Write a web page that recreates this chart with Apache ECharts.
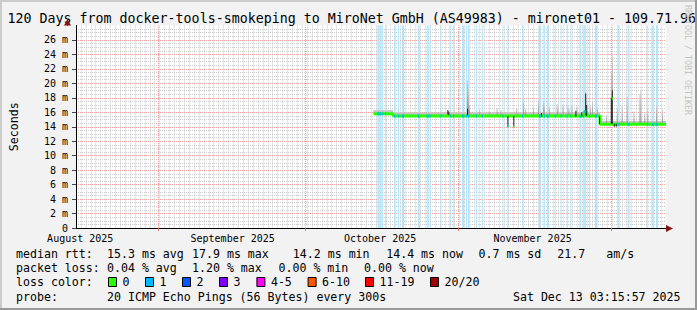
<!DOCTYPE html>
<html>
<head>
<meta charset="utf-8">
<script src="https://cdn.jsdelivr.net/npm/echarts@6/dist/echarts.min.js"></script>
<style>
html,body{margin:0;padding:0;background:#f2f2f2;}
#c{width:697px;height:310px;}
</style>
</head>
<body>
<div id="c"></div>
<script>
// ---------------- data (x = days since Fri Aug 15 2025 03:15:57, 120-day window) ----------------
const titleText = '120 Days from docker-tools-smokeping to MiroNet GmbH (AS49983) - mironet01 - 109.71.96';
const monthLabels = ['August 2025', 'September 2025', 'October 2025', 'November 2025'];
const monthLabelDays = [0.86, 31.86, 61.86, 92.86];
const monthLineDays = [16.63, 46.68, 77.73, 108.78];

// median RTT in ms, as step changes [day, ms]
const medianSteps = [
  [60.50, 15.8], [64.51, 15.5], [103.37, 16.1], [103.77, 15.5], [106.58, 14.35], [120.0, 14.35]
];
// single-column median excursions [day, ms]
const medianDips = [[87.75, 14.1], [88.95, 14.0], [108.98, 17.9]];

// light smoke band [fromDay, toDay, low ms, high ms]
const smokeBand = [
  [60.50, 64.51, 15.8, 16.3],
  [64.51, 106.58, 15.5, 16.0],
  [106.58, 120.0, 14.35, 14.8]
];

// smoke spikes above the median [day, top ms]
const smokeSpikes = [
  [79.53, 20.4], [79.73, 19.2], [79.93, 17.0], [81.94, 16.3], [83.94, 16.2], [85.54, 16.6],
  [86.34, 16.3], [89.55, 16.6], [90.95, 17.8], [91.35, 16.5], [92.95, 16.6], [93.96, 17.7],
  [94.96, 17.5], [95.16, 17.0], [96.16, 16.8], [97.76, 17.2], [97.96, 16.8], [98.96, 17.1],
  [99.97, 17.0], [100.17, 16.5], [100.77, 17.0], [101.77, 16.8], [103.57, 18.9], [104.57, 16.8],
  [104.97, 17.5], [105.97, 16.6], [107.78, 15.6], [108.78, 21.5], [108.98, 23.8], [109.98, 16.6],
  [110.98, 17.0], [111.99, 18.2], [113.39, 16.2], [114.59, 18.5], [114.79, 19.1], [115.59, 16.0],
  [116.19, 16.4], [117.99, 17.0], [119.20, 16.3]
];

// dense (dark) smoke [day, low ms, high ms]
const darkSmoke = [
  [75.53, 15.7, 16.3], [75.73, 15.6, 16.1], [79.53, 15.6, 16.5], [87.75, 14.0, 15.5],
  [88.95, 14.0, 15.5], [94.56, 15.4, 15.9], [101.57, 15.4, 16.2], [102.77, 15.4, 16.0],
  [103.57, 15.6, 18.6], [103.77, 15.5, 17.0], [106.38, 14.4, 15.5], [108.78, 14.4, 18.0],
  [108.98, 14.4, 19.0], [109.38, 14.0, 14.4], [109.78, 14.0, 14.4]
];

// buckets with packet loss (loss color "1")
const lossDays = [
  61.30, 61.50, 61.70, 61.90, 62.30, 62.90, 64.71, 65.51, 66.31, 66.51, 69.52, 69.72,
  71.32, 71.52, 71.92, 74.12, 76.13, 76.73, 78.53, 78.73, 79.33, 79.73, 81.34, 82.54,
  86.74, 87.75, 90.75, 94.16, 94.36, 95.16, 95.76, 95.96, 97.36, 98.56, 99.77, 100.57,
  102.37, 102.57, 103.17, 103.37, 103.57, 104.37, 105.57, 105.77, 110.18, 110.38, 112.18,
  112.38, 116.19, 117.19, 117.39, 117.99, 118.19
];

const lossLabels = ['0', '1', '2', '3', '4-5', '6-10', '11-19', '20/20'];
const lossColors = ['#26ff00', '#00b8ff', '#0059ff', '#7e00ff', '#ff00ff', '#ff5500', '#ff0000', '#a10000'];

const statLines = [
  { y: 253.5, items: [[16, 'median rtt:'], [107, '15.3 ms avg'], [192, '17.9 ms max'], [292.8, '14.2 ms min'], [386.2, '14.4 ms now'], [478.5, '0.7 ms sd'], [557.3, '21.7'], [606.2, 'am/s']] },
  { y: 268, items: [[16, 'packet loss:'], [107, '0.04 % avg'], [192, '1.20 % max'], [278.5, '0.00 % min'], [364, '0.00 % now']] },
  { y: 282.3, items: [[16, 'loss color:']] },
  { y: 296.5, items: [[16, 'probe:'], [107, '20 ICMP Echo Pings (56 Bytes) every 300s']] }
];
const stampText = 'Sat Dec 13 03:15:57 2025';

// ---------------- chart ----------------
const BUCKET = 120 / 600;  // one consolidated column, in days
const MONO = '"DejaVu Sans Mono", monospace';

function medianAt(d) {
  const dip = medianDips.find(m => Math.abs(m[0] - d) < 1e-6);
  if (dip) return dip[1];
  let v = medianSteps[0][1];
  for (const s of medianSteps) { if (s[0] <= d + 1e-6) v = s[1]; else break; }
  return v;
}

const chart = echarts.init(document.getElementById('c'), null, { renderer: 'svg', width: 697, height: 310 });

const legendGraphics = [];
const boxX = [108, 145, 182, 219, 256.4, 307.6, 365, 430];
lossLabels.forEach((lab, i) => {
  legendGraphics.push({ type: 'rect', shape: { x: boxX[i] + 0.5, y: 277.5, width: 8, height: 9 },
    style: { fill: lossColors[i], stroke: '#000', lineWidth: 1 }, z: 10 });
  legendGraphics.push({ type: 'text', x: boxX[i] + 14.5, y: 282.3,
    style: { text: lab, fontSize: 11.6, fontFamily: MONO, fill: '#000', verticalAlign: 'middle' }, z: 10 });
});

const textGraphics = [];
statLines.forEach(line => {
  line.items.forEach(it => {
    textGraphics.push({ type: 'text', x: it[0], y: line.y,
      style: { text: it[1], fontSize: 11.6, fontFamily: MONO, fill: '#000', verticalAlign: 'middle' }, z: 10 });
  });
});
textGraphics.push({ type: 'text', x: 680.5, y: 296.5,
  style: { text: stampText, fontSize: 11.6, fontFamily: MONO, fill: '#000', align: 'right', verticalAlign: 'middle' }, z: 10 });

function rectItem(a, b, fill) {
  return { type: 'rect', shape: { x: a[0], y: Math.min(a[1], b[1]), width: b[0] - a[0], height: Math.abs(a[1] - b[1]) }, style: { fill } };
}

const option = {
  backgroundColor: '#f2f2f2',
  animation: false,
  grid: { left: 67, right: 31, top: 25.5, bottom: 82, show: true, backgroundColor: '#ffffff', borderWidth: 0 },
  xAxis: [
    {
      type: 'value', min: 0, max: 120, position: 'bottom',
      axisLine: { show: true, onZero: false, lineStyle: { color: '#000', width: 1 } },
      axisTick: { show: true, customValues: monthLineDays, length: 3, lineStyle: { color: '#e07070' } },
      axisLabel: {
        show: true, customValues: monthLabelDays, margin: 5, fontSize: 10, lineHeight: 10, fontFamily: MONO, color: '#000',
        formatter: v => { const i = monthLabelDays.findIndex(m => Math.abs(m - v) < 0.01); return i >= 0 ? monthLabels[i] : ''; }
      },
      splitLine: { show: false }
    },
    {
      type: 'value', min: 0, max: 120, interval: 1, position: 'top',
      axisLine: { show: false }, axisTick: { show: false }, axisLabel: { show: false },
      splitLine: { show: true, showMinLine: false, showMaxLine: false, lineStyle: { color: '#cccccc', type: [1, 1], width: 1 } }
    }
  ],
  yAxis: {
    type: 'value', min: 0, max: 28, interval: 2,
    name: 'Seconds', nameLocation: 'middle', nameGap: 56, nameRotate: 90,
    nameTextStyle: { fontSize: 11.6, fontFamily: MONO, color: '#000' },
    axisLine: { show: true, lineStyle: { color: '#000', width: 1 } },
    axisTick: { show: true, length: 4, lineStyle: { color: '#444' } },
    axisLabel: { fontSize: 10, lineHeight: 10, fontFamily: MONO, color: '#000', margin: 8, showMaxLabel: false,
      formatter: v => v === 0 ? '0' : v + ' m' },
    splitLine: { show: true, showMinLine: false, showMaxLine: false, lineStyle: { color: '#f09a9a', type: [1, 1], width: 1 } },
    minorTick: { show: false, splitNumber: 4 },
    minorSplitLine: { show: true, lineStyle: { color: '#cccccc', type: [1, 1], width: 1 } }
  },
  series: [
    {
      type: 'line', data: [], z: 1, silent: true,
      markLine: { silent: true, symbol: ['none', 'none'], animation: false, label: { show: false },
        lineStyle: { color: '#f09a9a', type: [1, 1], width: 1 },
        data: monthLineDays.map(d => ({ xAxis: d })) }
    },
    {
      type: 'custom', z: 2, silent: true, data: lossDays.map(d => [d]),
      renderItem: (p, api) => {
        const d = api.value(0);
        return rectItem(api.coord([d, 0]), api.coord([d + BUCKET, 28]), '#ade4fa');
      }
    },
    {
      type: 'custom', z: 3, silent: true, data: smokeBand,
      renderItem: (p, api) => rectItem(api.coord([api.value(0), api.value(2)]), api.coord([api.value(1), api.value(3)]), '#c4c4c4')
    },
    {
      type: 'custom', z: 4, silent: true, data: smokeSpikes,
      renderItem: (p, api) => {
        const d = api.value(0);
        return rectItem(api.coord([d, medianAt(d)]), api.coord([d + BUCKET, api.value(1)]),
          new echarts.graphic.LinearGradient(0, 0, 0, 1, [{ offset: 0, color: '#cfcfcf' }, { offset: 1, color: '#8c8c8c' }]));
      }
    },
    {
      type: 'line', z: 5, silent: true, data: medianSteps, step: 'end', showSymbol: false,
      lineStyle: { color: lossColors[0], width: 3 }
    },
    {
      type: 'custom', z: 6, silent: true, data: darkSmoke,
      renderItem: (p, api) => {
        const d = api.value(0);
        return rectItem(api.coord([d, api.value(1)]), api.coord([d + BUCKET, api.value(2)]), '#1e1e1e');
      }
    },
    {
      type: 'custom', z: 7, silent: true, data: medianDips,
      renderItem: (p, api) => {
        const d = api.value(0), v = api.value(1);
        const c = api.coord([d, v]), e = api.coord([d + BUCKET, v]);
        return { type: 'rect', shape: { x: c[0], y: c[1] - 1.5, width: e[0] - c[0], height: 3 }, style: { fill: lossColors[0] } };
      }
    },
    {
      type: 'custom', z: 8, silent: true, data: lossDays.map(d => [d]),
      renderItem: (p, api) => {
        const d = api.value(0), v = medianAt(d);
        const c = api.coord([d, v]), e = api.coord([d + BUCKET, v]);
        return { type: 'rect', shape: { x: c[0], y: c[1] - 1.5, width: e[0] - c[0], height: 3 }, style: { fill: lossColors[1] } };
      }
    }
  ],
  graphic: [
    // frame shading
    { type: 'rect', shape: { x: 0, y: 0, width: 697, height: 2 }, style: { fill: '#cbcbcb' }, z: 20 },
    { type: 'rect', shape: { x: 0, y: 0, width: 2, height: 310 }, style: { fill: '#cbcbcb' }, z: 20 },
    { type: 'rect', shape: { x: 695, y: 0, width: 2, height: 310 }, style: { fill: '#999999' }, z: 20 },
    { type: 'rect', shape: { x: 0, y: 308, width: 697, height: 2 }, style: { fill: '#999999' }, z: 20 },
    // title
    { type: 'text', x: 7.5, y: 18.5, style: { text: titleText, fontSize: 13.3, fontFamily: MONO, fill: '#000', verticalAlign: 'middle' }, z: 10 },
    // watermark
    { type: 'text', x: 688, y: 60, rotation: -Math.PI / 2,
      style: { text: 'RRDTOOL / TOBI OETIKER', fontSize: 8.3, fontFamily: MONO, fill: '#c4c4c4', align: 'center', verticalAlign: 'middle' }, z: 10 },
    // axis extensions and arrows
    { type: 'line', shape: { x1: 67.5, y1: 25.5, x2: 67.5, y2: 22 }, style: { stroke: '#000', lineWidth: 1 }, z: 10 },
    { type: 'polygon', shape: { points: [[64, 25.5], [71, 25.5], [67.5, 19]] }, style: { fill: '#7f1414' }, z: 11 },
    { type: 'line', shape: { x1: 666, y1: 228.5, x2: 668, y2: 228.5 }, style: { stroke: '#000', lineWidth: 1 }, z: 10 },
    { type: 'polygon', shape: { points: [[666, 225], [666, 232], [673, 228.5]] }, style: { fill: '#7f1414' }, z: 11 },
    ...textGraphics,
    ...legendGraphics
  ]
};

chart.setOption(option);
</script>
</body>
</html>
